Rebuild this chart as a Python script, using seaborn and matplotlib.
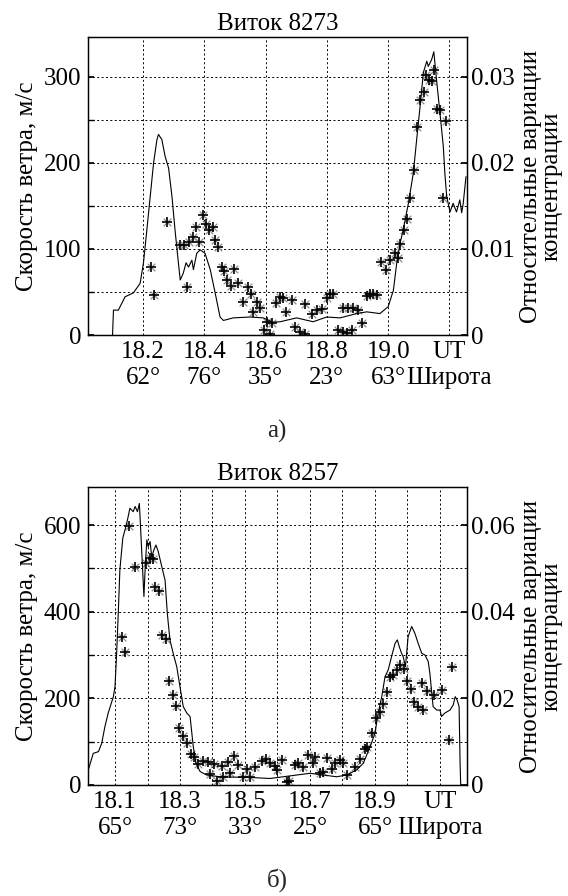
import seaborn as sns
import matplotlib.pyplot as plt

# --- Виток 8273: сплошная линия (отн. вариации концентрации) ---
ut_line_a = [18.100, 18.103, 18.119, 18.141, 18.168, 18.190, 18.201, 18.212, 18.223, 18.234,
             18.245, 18.250, 18.261, 18.272, 18.283, 18.294, 18.304, 18.315, 18.321, 18.331,
             18.340, 18.348, 18.359, 18.364, 18.375, 18.386, 18.402, 18.419, 18.435, 18.451,
             18.462, 18.494, 18.549, 18.592, 18.624, 18.647, 18.701, 18.755, 18.799, 18.843,
             18.897, 18.930, 18.973, 19.000, 19.017, 19.028, 19.039, 19.049, 19.066, 19.082,
             19.093, 19.104, 19.115, 19.126, 19.131, 19.142, 19.149, 19.158, 19.169, 19.180,
             19.185, 19.191, 19.202, 19.212, 19.223, 19.234, 19.240, 19.245, 19.254]
conc_line_a = [0, 0.0029, 0.0029, 0.00445, 0.0049, 0.0060, 0.0084, 0.0122, 0.0161, 0.0200,
               0.0227, 0.0233, 0.0227, 0.0207, 0.0194, 0.0161, 0.0122, 0.0084, 0.0064, 0.0072,
               0.0084, 0.0079, 0.0087, 0.0076, 0.0095, 0.0099, 0.0095, 0.0076, 0.0049, 0.0021,
               0.0017, 0.0020, 0.0021, 0.0020, 0.0015, 0.00155, 0.0020, 0.00155, 0.0021, 0.0020,
               0.0025, 0.0027, 0.0025, 0.0033, 0.0052, 0.0084, 0.0107, 0.0122, 0.0153, 0.0188,
               0.0227, 0.0265, 0.0305, 0.0318, 0.0312, 0.0320, 0.0329, 0.0296, 0.0258, 0.0219,
               0.0188, 0.0161, 0.0143, 0.0153, 0.0143, 0.0157, 0.0142, 0.0153, 0.0184]

# звёздочки (скорость ветра)
ut_pts_a = [18.225, 18.234, 18.279, 18.321, 18.334, 18.343, 18.351, 18.362, 18.373, 18.383,
            18.395, 18.406, 18.416, 18.427, 18.436, 18.445, 18.457, 18.464, 18.475, 18.487,
            18.495, 18.511, 18.525, 18.542, 18.551, 18.560, 18.573, 18.582, 18.593, 18.604,
            18.614, 18.620, 18.634, 18.647, 18.656, 18.667, 18.685, 18.696, 18.712, 18.729,
            18.729, 18.752, 18.767, 18.783, 18.799, 18.810, 18.821, 18.837, 18.853, 18.865,
            18.881, 18.853, 18.870, 18.886, 18.902, 18.914, 18.930, 18.941, 18.951, 18.964,
            18.976, 18.993, 19.006, 19.022, 19.033, 19.039, 19.052, 19.062, 19.071, 19.084,
            19.093, 19.104, 19.117, 19.122, 19.133, 19.144, 19.150, 19.158, 19.169, 19.188,
            19.180]
wind_pts_a = [79, 47, 131, 105, 105, 56, 108, 114, 126, 108,
              139, 129, 122, 125, 110, 102, 79, 74, 64, 57,
              77, 60, 39, 56, 48, 27, 39, 31, 6, 15,
              1, 14, 37, 44, 43, 27, 41, 9, 4, 1,
              36, 25, 29, 30, 43, 48, 48, 6, 4, 2,
              6, 31, 31, 31, 29, 14, 45, 48, 48, 46,
              85, 76, 87, 95, 89, 106, 122, 135, 159, 192,
              242, 273, 282, 302, 296, 295, 308, 262, 261, 249,
              159]

ut_ticks_a = [18.2, 18.4, 18.6, 18.8, 19.0, 19.2]
lat_labels_a = ['62°', '76°', '35°', '23°', '63°']

# --- Виток 8257 ---
ut_line_b = [18.018, 18.033, 18.049, 18.059, 18.069, 18.079, 18.095, 18.100, 18.105, 18.110,
             18.115, 18.124, 18.136, 18.146, 18.156, 18.162, 18.169, 18.175, 18.179, 18.185,
             18.189, 18.193, 18.198, 18.202, 18.208, 18.213, 18.220, 18.226, 18.233, 18.244,
             18.254, 18.261, 18.269, 18.279, 18.290, 18.300, 18.310, 18.321, 18.331, 18.341,
             18.349, 18.362, 18.382, 18.423, 18.474, 18.526, 18.577, 18.618, 18.659, 18.700,
             18.741, 18.782, 18.813, 18.844, 18.864, 18.885, 18.900, 18.910, 18.921, 18.931,
             18.941, 18.951, 18.962, 18.969, 18.975, 18.982, 18.987, 18.994, 19.002, 19.013,
             19.023, 19.033, 19.044, 19.054, 19.064, 19.069, 19.079, 19.090, 19.100, 19.105,
             19.115, 19.131, 19.141, 19.147, 19.153, 19.159, 19.162, 19.164]
conc_line_b = [0.0035, 0.0073, 0.0077, 0.0096, 0.0135, 0.0166, 0.0204, 0.0227, 0.0304, 0.0396,
               0.0497, 0.0570, 0.0604, 0.0639, 0.0631, 0.0643, 0.0631, 0.0650, 0.0589, 0.0497,
               0.0435, 0.0504, 0.0566, 0.0550, 0.0562, 0.0527, 0.0543, 0.0554, 0.0539, 0.0504,
               0.0473, 0.0396, 0.0335, 0.0304, 0.0273, 0.0227, 0.0181, 0.0166, 0.0158, 0.0088,
               0.0050, 0.0031, 0.0023, 0.0019, 0.0018, 0.0017, 0.0015, 0.0019, 0.0023, 0.0027,
               0.0023, 0.0019, 0.0023, 0.0035, 0.0050, 0.0088, 0.0119, 0.0166, 0.0204, 0.0250,
               0.0266, 0.0296, 0.0327, 0.0335, 0.0319, 0.0304, 0.0296, 0.0273, 0.0342, 0.0366,
               0.0350, 0.0327, 0.0304, 0.0300, 0.0285, 0.0258, 0.0181, 0.0173, 0.0173, 0.0158,
               0.0166, 0.0173, 0.0185, 0.0204, 0.0196, 0.0181, 0.0050, 0.0]

ut_pts_b = [18.122, 18.131, 18.144, 18.162, 18.194, 18.208, 18.216, 18.223, 18.236, 18.244,
            18.257, 18.267, 18.278, 18.287, 18.298, 18.310, 18.322, 18.334, 18.344, 18.356,
            18.372, 18.387, 18.392, 18.405, 18.413, 18.428, 18.433, 18.449, 18.454, 18.467,
            18.479, 18.495, 18.505, 18.515, 18.531, 18.551, 18.565, 18.577, 18.592, 18.598,
            18.613, 18.628, 18.635, 18.654, 18.664, 18.679, 18.695, 18.710, 18.715, 18.731,
            18.741, 18.751, 18.767, 18.777, 18.792, 18.802, 18.813, 18.838, 18.854, 18.869,
            18.876, 18.890, 18.903, 18.915, 18.926, 18.938, 18.946, 18.956, 18.967, 18.977,
            18.989, 18.999, 19.010, 19.020, 19.033, 19.049, 19.044, 19.061, 19.082, 19.105,
            19.129, 19.136]
wind_pts_b = [341, 306, 598, 503, 513, 523, 521, 458, 448, 346,
              336, 240, 208, 182, 131, 112, 96, 72, 65, 48,
              56, 52, 25, 48, 10, 44, 19, 52, 28, 68,
              46, 19, 36, 19, 42, 55, 59, 50, 44, 35,
              58, 8, 10, 46, 50, 42, 69, 50, 65, 27,
              31, 62, 38, 50, 58, 50, 23, 41, 59, 82,
              88, 121, 154, 169, 187, 215, 250, 254, 266, 277,
              267, 239, 221, 192, 181, 174, 235, 218, 208, 219,
              105, 273]

ut_ticks_b = [18.1, 18.3, 18.5, 18.7, 18.9, 19.1]
ut_minor_b = [18.2, 18.4, 18.6, 18.8, 19.0]
lat_labels_b = ['65°', '73°', '33°', '25°', '65°']

sns.set_theme(style="white")
plt.rcParams['font.family'] = ['Liberation Serif', 'DejaVu Serif']
FS = 18

fig = plt.figure(figsize=(5.68, 8.96), dpi=100)


def draw_panel(rect, title, ut_l, conc_l, ut_p, wind_p, ticks, minor_x, lats,
               xlim, ymax, yticks, yminor, rticks, rlabels):
    ax = fig.add_axes(rect)
    ax2 = ax.twinx()

    # звёздочка как у MATLAB: серый "x" под чёрным "+"
    sns.scatterplot(x=ut_p, y=wind_p, ax=ax, marker='x', s=30,
                    color='0.55', linewidth=0.9, zorder=3)
    sns.scatterplot(x=ut_p, y=wind_p, ax=ax, marker='+', s=44,
                    color='black', linewidth=1.2, zorder=4)
    sns.lineplot(x=ut_l, y=conc_l, ax=ax2, color='black', linewidth=0.8,
                 estimator=None, sort=False)

    ax.set_xlim(*xlim)
    ax.set_ylim(0, ymax)
    ax2.set_ylim(0, ymax / 10000)

    labels = [f"{t:.1f}\n{lat}" for t, lat in zip(ticks[:-1], lats)] + ["UT\nШирота"]
    ax.set_xticks(ticks, labels)
    ax.set_xticks(minor_x, minor=True)
    ax.set_yticks(yticks, [str(v) for v in yticks])
    ax.set_yticks(yminor, minor=True)
    ax2.set_yticks(rticks, rlabels)

    ax.grid(True, which='both', color='black', linestyle=(0, (2, 2.5)), linewidth=0.7)
    ax2.grid(False)
    for a in (ax, ax2):
        for sp in a.spines.values():
            sp.set_color('black')
            sp.set_linewidth(0.9)
        a.tick_params(which='both', direction='in', length=4, color='black',
                      labelsize=FS, labelcolor='black')
    ax.tick_params(axis='x', pad=4)
    ax.tick_params(axis='y', pad=5)
    ax2.tick_params(axis='y', pad=3)
    for lbl in ax.get_xticklabels():
        lbl.set_linespacing(1.25)

    ax.set_title(title, fontsize=FS, pad=5, color='black')
    ax.set_ylabel("Скорость ветра, м/с", fontsize=FS, labelpad=4, color='black')
    ax2.set_ylabel("Относительные вариации\nконцентрации", fontsize=FS,
                   labelpad=4, linespacing=0.9, color='black')
    return ax


draw_panel([0.155, 0.626, 0.667, 0.3326], "Виток 8273",
           ut_line_a, conc_line_a, ut_pts_a, wind_pts_a,
           ut_ticks_a, [], lat_labels_a, (18.02, 19.257), 346,
           [0, 100, 200, 300], [50, 150, 250],
           [0, 0.01, 0.02, 0.03], ['0', '0.01', '0.02', '0.03'])

draw_panel([0.155, 0.1239, 0.667, 0.3326], "Виток 8257",
           ut_line_b, conc_line_b, ut_pts_b, wind_pts_b,
           ut_ticks_b, ut_minor_b, lat_labels_b, (18.017, 19.183), 688,
           [0, 200, 400, 600], [100, 300, 500],
           [0, 0.02, 0.04, 0.06], ['0', '0.02', '0.04', '0.06'])

fig.text(0.488, 0.518, "а)", ha='center', va='center', fontsize=FS)
fig.text(0.488, 0.018, "б)", ha='center', va='center', fontsize=FS)

fig.savefig("out.png", dpi=100)
